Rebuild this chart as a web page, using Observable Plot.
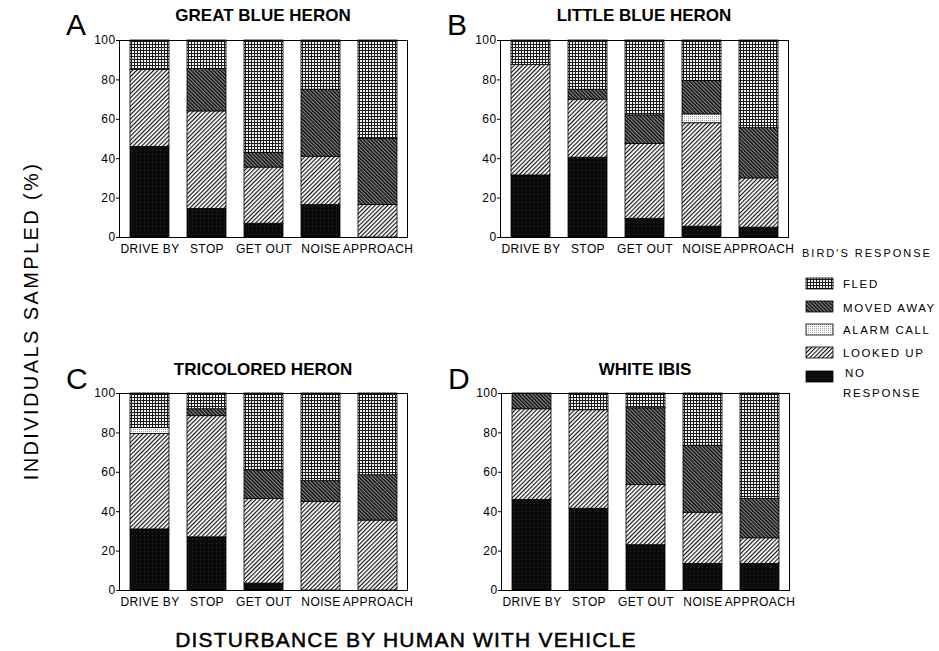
<!DOCTYPE html>
<html>
<head>
<meta charset="utf-8">
<script src="https://cdn.jsdelivr.net/npm/d3@7"></script>
<script src="https://cdn.jsdelivr.net/npm/@observablehq/plot@0.6"></script>
<style>
  html, body { margin: 0; padding: 0; background: #fff; }
  #root { position: relative; width: 939px; height: 651px; background: #fff; overflow: hidden; }
  #root > .panel { position: absolute; }
  #overlay { position: absolute; left: 0; top: 0; }
  text { font-family: "Liberation Sans", Arial, Helvetica, sans-serif; }
</style>
</head>
<body>
<div id="root"></div>
<script>
// ---- data (segment heights in %) ----
const disturbances = ["DRIVE BY", "STOP", "GET OUT", "NOISE", "APPROACH"];
const responses = ["NO RESPONSE", "LOOKED UP", "ALARM CALL", "MOVED AWAY", "FLED"]; // bottom -> top
const yTicks = [0, 20, 40, 60, 80, 100];
const panelLetters = ["A", "B", "C", "D"];
const panelTitles = ["GREAT BLUE HERON", "LITTLE BLUE HERON", "TRICOLORED HERON", "WHITE IBIS"];
const legendOrder = ["FLED", "MOVED AWAY", "ALARM CALL", "LOOKED UP", "NO RESPONSE"];

// rows follow `responses`, columns follow `disturbances`
const greatBlueHeron = [
  [46, 14.5, 7, 16.5, 0],      // no response
  [39, 49.5, 28.5, 24.5, 16.5],// looked up
  [0, 0, 0, 0, 0],             // alarm call
  [0, 21.5, 7.5, 34, 33.5],    // moved away
  [15, 14.5, 57, 25, 50]       // fled
];
const littleBlueHeron = [
  [31.5, 40.5, 9.5, 5.5, 5],
  [56, 29.5, 38, 52.5, 25],
  [0, 0, 0, 4.5, 0],
  [0, 5, 14.5, 17, 25.5],
  [12.5, 25, 38, 20.5, 44.5]
];
const tricoloredHeron = [
  [31, 27, 3.5, 0, 0],
  [48.5, 61.5, 43, 45, 35.5],
  [3, 0, 0, 0, 0],
  [0, 3.5, 14.5, 10.5, 23],
  [17.5, 8, 39, 44.5, 41.5]
];
const whiteIbis = [
  [46, 41.5, 23, 13.5, 13.5],
  [46, 50, 30.5, 26, 13],
  [0, 0, 0, 0, 0],
  [8, 0, 39, 34, 20],
  [0, 8.5, 7.5, 26.5, 53.5]
];
const speciesData = [greatBlueHeron, littleBlueHeron, tricoloredHeron, whiteIbis];

// ---- styling ----
const patternIds = { "NO RESPONSE": "p-none", "LOOKED UP": "p-looked", "ALARM CALL": "p-alarm", "MOVED AWAY": "p-moved", "FLED": "p-fled" };
const fills = responses.map(r => `url(#${patternIds[r]})`);
const FONT = '"Liberation Sans", Arial, Helvetica, sans-serif';

const root = document.getElementById("root");

// overlay svg with pattern defs and text
const W = 939, H = 651;
const overlay = d3.create("svg").attr("id", "overlay").attr("width", W).attr("height", H);
const defs = overlay.append("defs");
function pat(id, w, h, rot, build) {
  const p = defs.append("pattern").attr("id", id).attr("patternUnits", "userSpaceOnUse")
    .attr("width", w).attr("height", h);
  if (rot) p.attr("patternTransform", `rotate(${rot})`);
  build(p);
}
pat("p-fled", 3, 3, 0, p => {
  p.append("rect").attr("width", 3).attr("height", 3).attr("fill", "#f4f4f4");
  p.append("rect").attr("width", 3).attr("height", 1).attr("fill", "#1a1a1a");
  p.append("rect").attr("width", 1).attr("height", 3).attr("fill", "#1a1a1a");
});
pat("p-moved", 2.6, 2.6, -45, p => {
  p.append("rect").attr("width", 2.6).attr("height", 2.6).attr("fill", "#8a8a8a");
  p.append("rect").attr("width", 1.4).attr("height", 2.6).attr("fill", "#0a0a0a");
});
pat("p-alarm", 2, 2, 0, p => {
  p.append("rect").attr("width", 2).attr("height", 2).attr("fill", "#fff");
  p.append("rect").attr("width", 1).attr("height", 1).attr("fill", "#a0a0a0");
});
pat("p-looked", 3, 3, 45, p => {
  p.append("rect").attr("width", 3).attr("height", 3).attr("fill", "#fff");
  p.append("rect").attr("width", 1.15).attr("height", 3).attr("fill", "#111");
});
pat("p-none", 4, 4, 0, p => {
  p.append("rect").attr("width", 4).attr("height", 4).attr("fill", "#0b0b0b");
  p.append("rect").attr("x", 1).attr("y", 2).attr("width", 1).attr("height", 1).attr("fill", "#2a2a2a");
});

// ---- panels ----
const frames = [
  { left: 119, top: 40 },
  { left: 500, top: 40 },
  { left: 119, top: 393 },
  { left: 501, top: 393 }
];
const mL = 60, mT = 20, mR = 12, mB = 53, fw = 288, fh = 197;

speciesData.forEach((mat, i) => {
  const rows = [];
  responses.forEach((r, ri) => {
    disturbances.forEach((d, di) => {
      const v = mat[ri][di];
      if (v > 0) rows.push({ disturbance: d, response: r, value: v });
    });
  });
  const chart = Plot.plot({
    width: mL + fw + mR,
    height: mT + fh + mB,
    marginLeft: mL, marginRight: mR, marginTop: mT, marginBottom: mB,
    style: { fontFamily: FONT, fontSize: "12px", letterSpacing: "0.4px", color: "#000", background: "none", overflow: "visible" },
    x: { domain: disturbances, paddingInner: 0.32, paddingOuter: 0.16, label: null, tickSize: 0, tickPadding: 7 },
    y: { domain: [0, 100], ticks: yTicks, tickSize: 3, tickPadding: 1, label: null, tickFormat: d => String(d) },
    color: { domain: responses, range: fills },
    marks: [
      Plot.barY(rows, { x: "disturbance", y: "value", fill: "response", stroke: "#000", strokeWidth: 0.8 }),
      Plot.frame({ stroke: "#000", strokeWidth: 1 })
    ]
  });
  chart.classList.add("panel");
  chart.style.left = (frames[i].left - mL) + "px";
  chart.style.top = (frames[i].top - mT) + "px";
  root.appendChild(chart);

  // panel letter and title
  const cx = frames[i].left + fw / 2;
  const base = frames[i].top < 100 ? 21 : 375;
  overlay.append("text").text(panelLetters[i])
    .attr("x", frames[i].left - 53).attr("y", base + 14)
    .attr("font-size", 30).attr("fill", "#000").attr("font-family", FONT);
  overlay.append("text").text(panelTitles[i])
    .attr("x", cx).attr("y", base).attr("text-anchor", "middle")
    .attr("font-size", 17).attr("font-weight", "bold").attr("fill", "#000").attr("font-family", FONT);
});

// axis titles
overlay.append("text").text("INDIVIDUALS SAMPLED (%)")
  .attr("transform", "translate(38,321) rotate(-90)")
  .attr("text-anchor", "middle").attr("font-size", 20).attr("letter-spacing", 2.4)
  .attr("fill", "#000").attr("font-family", FONT);
overlay.append("text").text("DISTURBANCE BY HUMAN WITH VEHICLE")
  .attr("x", 406).attr("y", 647).attr("text-anchor", "middle")
  .attr("font-size", 21).attr("letter-spacing", 1.2)
  .attr("fill", "#000").attr("stroke", "#000").attr("stroke-width", 0.5).attr("font-family", FONT);

// legend
overlay.append("text").text("BIRD'S RESPONSE")
  .attr("x", 802).attr("y", 257).attr("font-size", 11).attr("letter-spacing", 2)
  .attr("fill", "#000").attr("font-family", FONT);
const swY = [278, 301, 324, 347, 371];
const lblY = [288, 312, 334, 357, 377];
legendOrder.forEach((r, k) => {
  overlay.append("rect").attr("x", 806).attr("y", swY[k]).attr("width", 27).attr("height", 11)
    .attr("fill", `url(#${patternIds[r]})`).attr("stroke", "#000").attr("stroke-width", 0.8);
  if (r === "NO RESPONSE") {
    overlay.append("text").text("NO").attr("x", 845).attr("y", lblY[k])
      .attr("font-size", 11.5).attr("letter-spacing", 1.8).attr("fill", "#000").attr("font-family", FONT);
    overlay.append("text").text("RESPONSE").attr("x", 843).attr("y", lblY[k] + 20)
      .attr("font-size", 11.5).attr("letter-spacing", 1.8).attr("fill", "#000").attr("font-family", FONT);
  } else {
    overlay.append("text").text(r).attr("x", 843).attr("y", lblY[k])
      .attr("font-size", 11.5).attr("letter-spacing", 1.6).attr("fill", "#000").attr("font-family", FONT);
  }
});

root.appendChild(overlay.node());
</script>
</body>
</html>
